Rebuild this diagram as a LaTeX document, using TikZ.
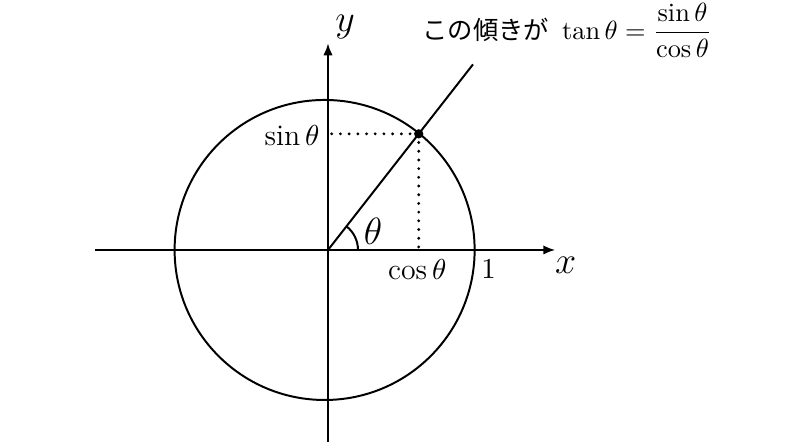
\documentclass[tikz,border=0pt]{standalone}
\usepackage{amsmath}
\usepackage{fontspec}
\newfontfamily\jpfont{Noto Sans CJK JP}
\usetikzlibrary{arrows.meta,positioning,calc}

\begin{document}
\begin{tikzpicture}[line width=0.75pt, axis/.style={-{Latex[length=1.6mm,width=1.25mm]}}, helper/.style={line width=1.2pt, line cap=round, dash pattern=on 0pt off 3.3pt}, lbl/.style={font=\fontsize{11.3}{13}\selectfont}]
    \useasboundingbox (-4.373,-2.627) rectangle (6.173,3.333);

    % Axes
    \coordinate (xl) at (-3.107, 0);
    \coordinate (xr) at (3.03, 0);
    \coordinate (yb) at (0, -2.555);
    \coordinate (yt) at (0, 2.756);
    \coordinate (o) at (0, 0);
    \draw[axis] (xl) -- (xr);
    \draw[axis] (yb) -- (yt);
    \node at (3.17, -0.21) {\Large $x$};
    \node at (0.227, 2.97) {\Large $y$};

    % Unit circle
    \coordinate (c) at (-0.045, 0);
    \draw (c) circle (2);
    \node[lbl] at (2.14, -0.25) {$1$};

    % Ray and point
    \coordinate (p) at (52:1.965);
    \coordinate (q) at (52:3.14);
    \coordinate (px) at (p |- o);
    \coordinate (py) at (p -| o);
    \draw (o) -- (q);
    \draw[helper] (p) -- (px);
    \draw[helper] (p) -- (py);
    \fill (p) circle (0.062);

    % Angle
    \draw (0.4,0) arc (0:52:0.4);
    \node at (0.6, 0.25) {\Large $\theta$};

    % Labels
    \node[lbl] (cos) at (1.19, -0.26) {$\cos\theta$};
    \node[lbl] (sin) at (-0.48, 1.52) {$\sin\theta$};
    \node (tan) at (3.19, 2.93) {{\jpfont\fontsize{9.6}{12}\selectfont この傾きが}\, $\tan\theta = \dfrac{\sin\theta}{\cos\theta}$};
\end{tikzpicture}
\end{document}
